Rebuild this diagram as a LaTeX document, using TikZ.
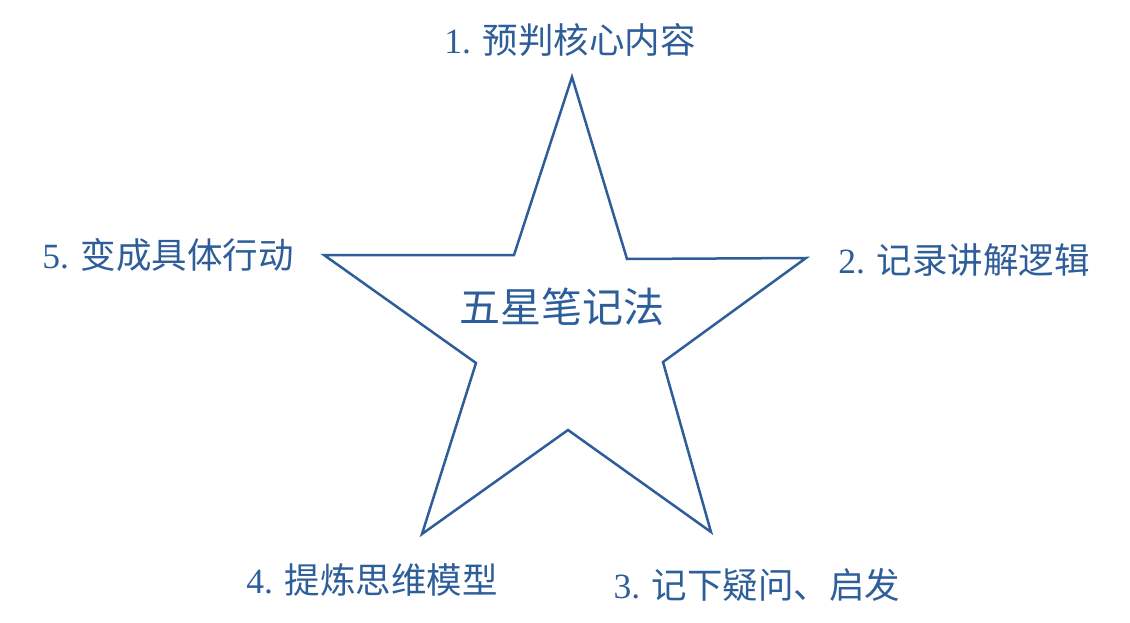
\documentclass[tikz,border=0pt]{standalone}
\usepackage{fontspec}
\setmainfont{Liberation Serif}
\newfontfamily\cjk{Noto Sans CJK SC}
\definecolor{starblue}{HTML}{2E5E9A}
\tikzset{
  lbl/.style={text=starblue, font=\fontsize{35.5}{42}\selectfont, inner sep=0pt, anchor=center},
  ttl/.style={text=starblue, font=\cjk\fontsize{41}{47}\selectfont, inner sep=0pt, anchor=center},
  starline/.style={draw=starblue, line width=2.5pt, line join=miter}
}
\begin{document}
\begin{tikzpicture}[x=1pt,y=-1pt]
\useasboundingbox (0,0) rectangle (1130,623);
% star vertices
\coordinate (t) at (572,77);
\coordinate (iur) at (627,259);
\coordinate (r) at (806,258);
\coordinate (ilr) at (663,362);
\coordinate (br) at (711,532);
\coordinate (ib) at (568,430);
\coordinate (bl) at (422,534);
\coordinate (ill) at (476,363);
\coordinate (l) at (324,255);
\coordinate (iul) at (514,255);
\draw[starline] (t) -- (iur) -- (r) -- (ilr) -- (br) -- (ib) -- (bl) -- (ill) -- (l) -- (iul) -- cycle;
\node[ttl] (center) at (562,307) {五星笔记法};
\node[lbl] (p1) at (570,40) {1. {\cjk 预判核心内容}};
\node[lbl] (p2) at (964,260) {2. {\cjk 记录讲解逻辑}};
\node[lbl] (p3) at (757,585) {3. {\cjk 记下疑问、启发}};
\node[lbl] (p4) at (372,580) {4. {\cjk 提炼思维模型}};
\node[lbl] (p5) at (168,255) {5. {\cjk 变成具体行动}};
\end{tikzpicture}
\end{document}
